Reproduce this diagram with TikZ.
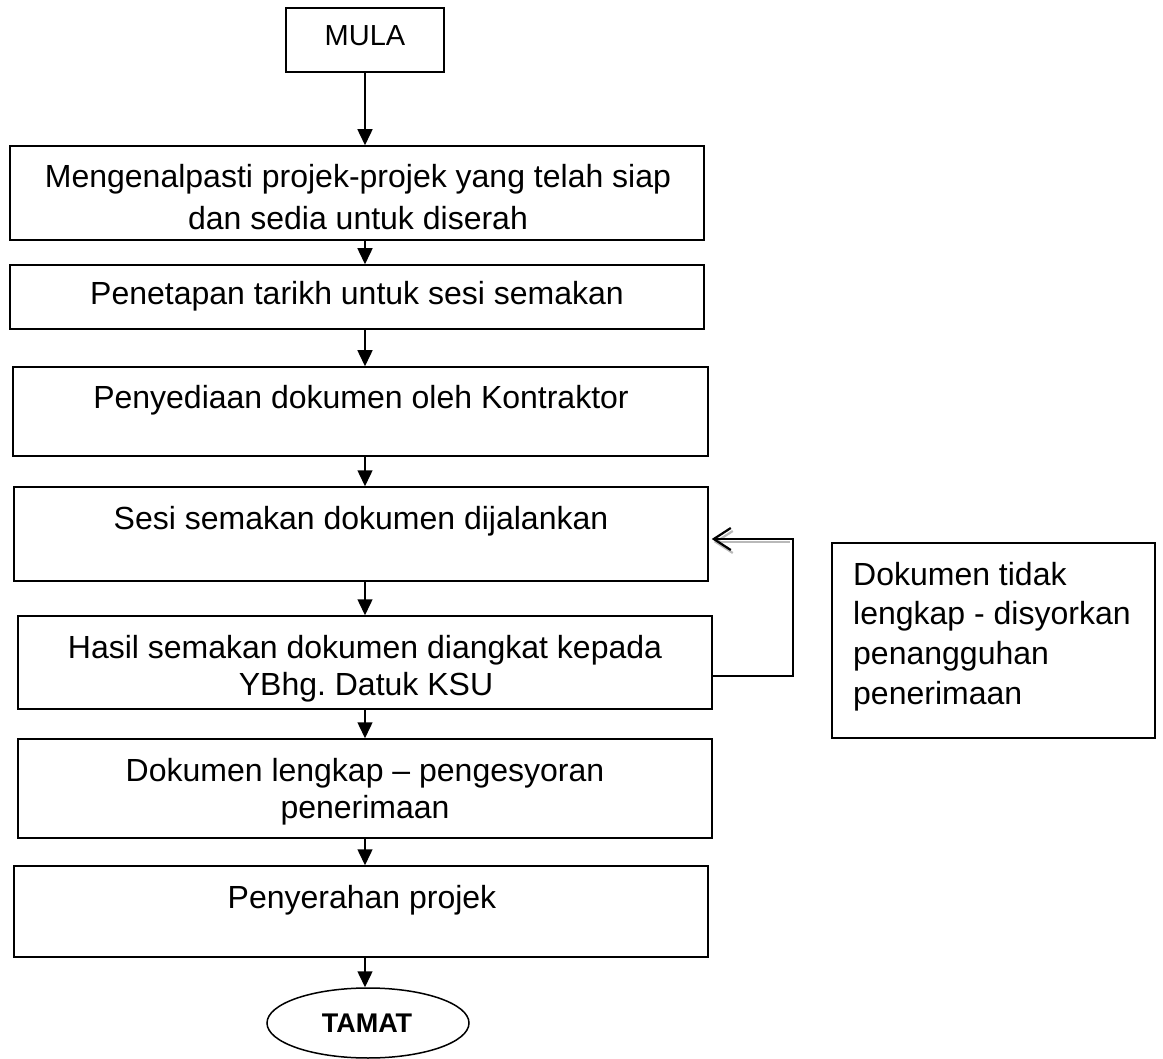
\documentclass[tikz,border=0pt]{standalone}
\usepackage{fontspec}
\setmainfont{Liberation Sans}
\frenchspacing
\usetikzlibrary{arrows.meta,calc,shapes.geometric}
\begin{document}
\begin{tikzpicture}[x=1pt,y=-1pt,
  box/.style={draw,line width=1.5pt,rectangle,inner sep=0pt},
  txt/.style={anchor=base,inner sep=0pt,font=\fontsize{32}{38}\selectfont},
  ltxt/.style={anchor=base west,inner sep=0pt,font=\fontsize{32}{38}\selectfont},
  arr/.style={line width=1.5pt,-{Triangle[length=16pt,width=15pt]}},
  fbline/.style={line width=2.2pt,-{Straight Barb[length=17pt,width=22pt]}},
  fbshadow/.style={line width=2.2pt,draw=gray!55,-{Straight Barb[length=17pt,width=22pt]}}]
\useasboundingbox (0,0) rectangle (1163,1059);
% boxes
\node[box,minimum width=158pt,minimum height=64pt] (b0) at (365,40) {};
\node[box,minimum width=694pt,minimum height=94pt] (b1) at (357,193) {};
\node[box,minimum width=694pt,minimum height=64pt] (b2) at (357,297) {};
\node[box,minimum width=695pt,minimum height=89pt] (b3) at (360.5,411.5) {};
\node[box,minimum width=694pt,minimum height=94pt] (b4) at (361,534) {};
\node[box,minimum width=694pt,minimum height=93pt] (b5) at (365,662.5) {};
\node[box,minimum width=694pt,minimum height=99pt] (b6) at (365,788.5) {};
\node[box,minimum width=694pt,minimum height=91pt] (b7) at (361,911.5) {};
\node[draw,line width=1.5pt,ellipse,inner sep=0pt,minimum width=202pt,minimum height=70pt] (end) at (368,1023) {};
\node[box,minimum width=323pt,minimum height=195pt] (rb) at (993.5,640.5) {};
% texts
\node[txt,font=\fontsize{29}{34}\selectfont] (t0) at (365,46) {MULA};
\node[txt] (t1a) at (358,188) {Mengenalpasti projek-projek yang telah siap};
\node[txt] (t1b) at (358,230) {dan sedia untuk diserah};
\node[txt] (t2) at (357,305) {Penetapan tarikh untuk sesi semakan};
\node[txt] (t3) at (361,409) {Penyediaan dokumen oleh Kontraktor};
\node[txt] (t4) at (361,529) {Sesi semakan dokumen dijalankan};
\node[txt] (t5a) at (365,658) {Hasil semakan dokumen diangkat kepada};
\node[txt] (t5b) at (366,695) {YBhg.\ Datuk KSU};
\node[txt] (t6a) at (365,781) {Dokumen lengkap – pengesyoran};
\node[txt] (t6b) at (365,818) {penerimaan};
\node[txt] (t7) at (362,908) {Penyerahan projek};
\node[txt,font=\fontsize{27}{32}\selectfont\bfseries] (tend) at (367,1032) {TAMAT};
\node[ltxt] (r1) at (853,585) {Dokumen tidak};
\node[ltxt] (r2) at (853,624) {lengkap - disyorkan};
\node[ltxt] (r3) at (853,664) {penangguhan};
\node[ltxt] (r4) at (853,704) {penerimaan};
% connectors
\draw[arr] (b0.south) -- (b0.south |- b1.north);
\draw[arr] (b1.south -| b0.south) -- (b2.north -| b0.south);
\draw[arr] (b2.south -| b0.south) -- (b3.north -| b0.south);
\draw[arr] (b3.south -| b0.south) -- (b4.north -| b0.south);
\draw[arr] (b4.south -| b0.south) -- (b5.north -| b0.south);
\draw[arr] (b5.south -| b0.south) -- (b6.north -| b0.south);
\draw[arr] (b6.south -| b0.south) -- (b7.north -| b0.south);
\draw[arr] (b7.south -| b0.south) -- (end.north -| b0.south);
% feedback
\coordinate (fbc) at (793,539);
\draw[fbshadow] ($(fbc)+(-3,3)$) -- ($(b4.east)+(5,8)$);
\draw[fbline] ($(b5.east)+(0,13.5)$) -| (fbc) -- ($(b4.east)+(3,5)$);
\end{tikzpicture}
\end{document}
